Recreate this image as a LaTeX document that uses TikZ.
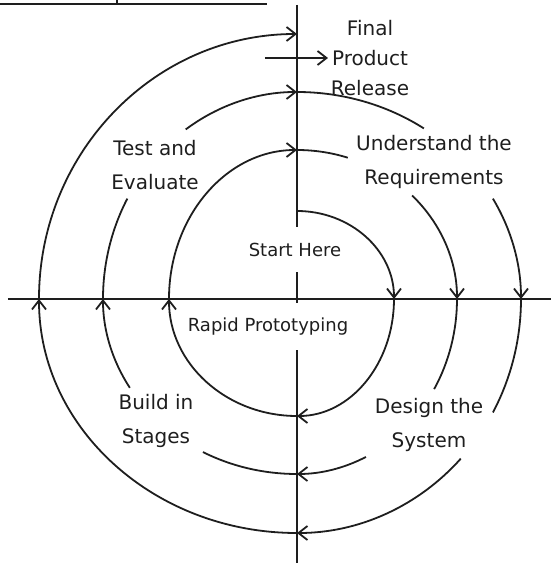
\documentclass[tikz,border=0pt]{standalone}
\usepackage{fontspec}
\setmainfont{DejaVu Sans}
\usetikzlibrary{arrows.meta}
\definecolor{ink}{HTML}{1E1E1E}
\newcommand\sparc[5]{\draw[spiral,#5] (C) ++(#3:#1pt and #2pt) arc[start angle=#3, end angle=#4, x radius=#1pt, y radius=#2pt];}
\begin{document}
\begin{tikzpicture}[x=1pt,y=1pt,
  spiral/.style={draw=ink,line width=1.8pt},
  tip/.style={-{Straight Barb[length=9pt,width=14pt,line width=1.8pt]}},
  axis/.style={draw=ink,line width=1.6pt},
  outer/.style={text=ink,align=center,font=\fontsize{20}{34}\selectfont,inner sep=0pt},
  inner/.style={text=ink,align=center,font=\fontsize{18}{22}\selectfont,inner sep=0pt}]
\useasboundingbox (-297,-269) rectangle (254,299);
\coordinate (C) at (0,0);
% axes
\coordinate (hL) at (-289,0); \coordinate (hR) at (254,0);
\draw[axis] (hL) -- (hR);
\coordinate (v1) at (0,294); \coordinate (v2) at (0,72);
\coordinate (v3) at (0,27); \coordinate (v4) at (0,-4);
\coordinate (v5) at (0,-51); \coordinate (v6) at (0,-264);
\draw[axis] (v1) -- (v2);
\draw[axis] (v3) -- (v4);
\draw[axis] (v5) -- (v6);
% clipped title underline
\coordinate (u1) at (-297,295); \coordinate (u2) at (-30,295);
\coordinate (u3) at (-180,295); \coordinate (u4) at (-180,299);
\draw[axis,line width=1.2pt] (u1) -- (u2);
\draw[axis,line width=1.2pt] (u3) -- (u4);
% loop 1
\sparc{97}{88}{90}{0}{tip}
\sparc{97}{117}{0}{-90}{tip}
\sparc{128}{117}{-90}{-180}{tip}
\sparc{128}{149}{180}{90}{tip}
% loop 2
\sparc{160}{149}{90}{71.5}{}
\sparc{160}{149}{44}{0}{tip}
\sparc{160}{175}{0}{-31}{}
\sparc{160}{175}{-64.5}{-90}{tip}
\sparc{194}{175}{-90}{-119}{}
\sparc{194}{175}{-149.5}{-180}{tip}
\sparc{194}{207}{180}{151}{}
\sparc{194}{207}{125}{90}{tip}
% loop 3
\sparc{224}{207}{90}{55.5}{}
\sparc{224}{207}{29}{0}{tip}
\sparc{224}{234}{0}{-29}{}
\sparc{224}{234}{-43}{-90}{tip}
\sparc{258}{234}{-90}{-180}{tip}
\sparc{258}{265}{180}{90}{tip}
% release arrow
\coordinate (r1) at (-32,241); \coordinate (r2) at (31,241);
\draw[spiral,tip] (r1) -- (r2);
% labels
\node[outer,font=\fontsize{20}{30}\selectfont] (release) at (73,241) {Final\\Product\\Release};
\node[outer] (test) at (-142,134) {Test and\\Evaluate};
\node[outer] (under) at (137,137) {Understand the\\Requirements};
\node[inner] (start) at (-2,49) {Start Here};
\node[inner] (rapid) at (-29,-28) {Rapid Prototyping};
\node[outer] (build) at (-141,-122) {Build in\\Stages};
\node[outer] (design) at (132,-126) {Design the\\System};
\end{tikzpicture}
\end{document}
